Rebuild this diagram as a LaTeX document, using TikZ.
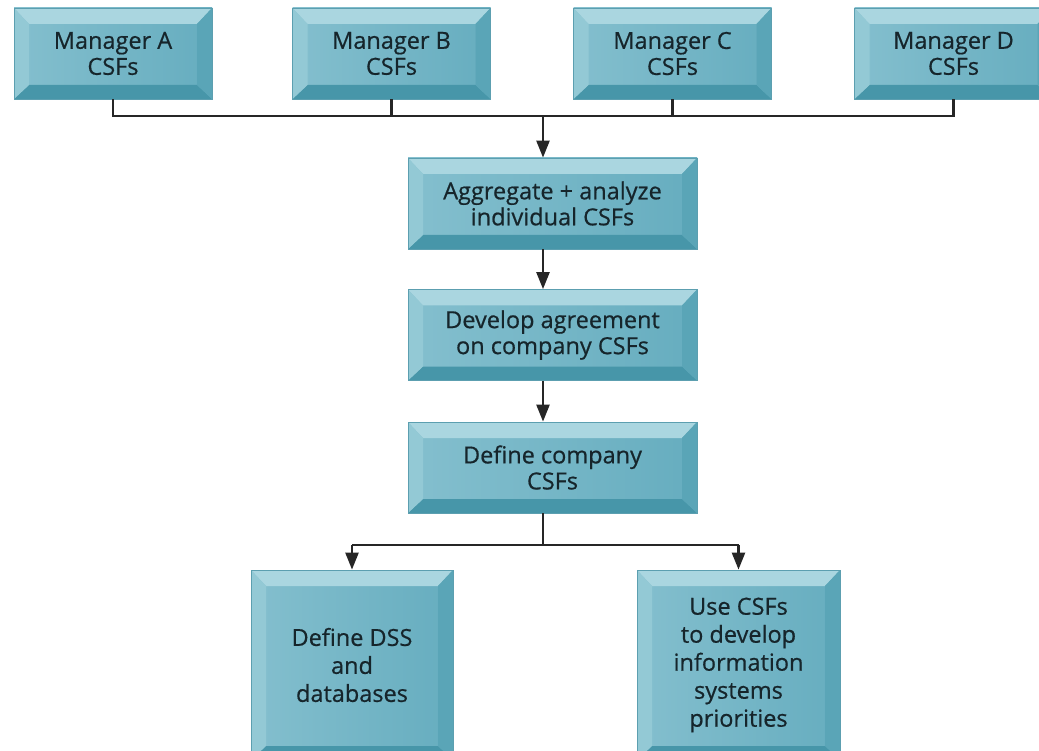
\documentclass[tikz,border=0pt]{standalone}
\usepackage{fontspec}
\setmainfont{Open Sans}[FakeBold=0.6]
\usetikzlibrary{arrows.meta}
\definecolor{face}{HTML}{66ADBF}
\definecolor{facel}{HTML}{84BFCE}
\definecolor{topc}{HTML}{AAD6E0}
\definecolor{botc}{HTML}{4796A9}
\definecolor{leftc}{HTML}{93C9D5}
\definecolor{rightc}{HTML}{5AA5B7}
\definecolor{edge}{HTML}{5C9FB0}
\definecolor{txt}{HTML}{16252B}
\newcommand{\bw}{15pt}
\tikzset{
  bev/.style={draw=edge, line width=0.8pt, left color=facel, right color=face,
    text=txt, align=center, inner sep=0pt,
    font=\fontsize{23.5}{26}\selectfont,
    path picture={
      \coordinate (nw) at (path picture bounding box.north west);
      \coordinate (ne) at (path picture bounding box.north east);
      \coordinate (sw) at (path picture bounding box.south west);
      \coordinate (se) at (path picture bounding box.south east);
      \fill[topc] (nw) -- (ne) -- ([xshift=-\bw,yshift=-16pt]ne) -- ([xshift=\bw,yshift=-16pt]nw) -- cycle;
      \fill[botc] (sw) -- (se) -- ([xshift=-\bw,yshift=14pt]se) -- ([xshift=\bw,yshift=14pt]sw) -- cycle;
      \fill[leftc] (nw) -- ([xshift=\bw,yshift=-16pt]nw) -- ([xshift=\bw,yshift=14pt]sw) -- (sw) -- cycle;
      \fill[rightc] (ne) -- ([xshift=-\bw,yshift=-16pt]ne) -- ([xshift=-\bw,yshift=14pt]se) -- (se) -- cycle;
    }},
  conn/.style={line width=2.4pt, draw=black!85},
  arr/.style={conn, -{Triangle[length=17pt,width=13pt]}}
}
\begin{document}
\begin{tikzpicture}[x=1pt,y=-1pt]
\useasboundingbox (0,0) rectangle (1039,751);
\clip (0,0) rectangle (1039,751);
\fill[white] (0,0) rectangle (1039,751);
% top managers
\node[bev, minimum width=198pt, minimum height=91pt] (ma) at (113,53.5) {Manager A\\CSFs};
\node[bev, minimum width=198pt, minimum height=91pt] (mb) at (391.5,53.5) {Manager B\\CSFs};
\node[bev, minimum width=198pt, minimum height=91pt] (mc) at (672.5,53.5) {Manager C\\CSFs};
\node[bev, minimum width=198pt, minimum height=91pt] (md) at (953.5,53.5) {Manager D\\CSFs};
% middle chain
\node[bev, minimum width=289pt, minimum height=91pt] (agg) at (552.5,203.5) {Aggregate + analyze\\individual CSFs};
\node[bev, minimum width=289pt, minimum height=91pt] (dev) at (552.5,335) {Develop agreement\\on company CSFs};
\node[bev, minimum width=289pt, minimum height=91pt] (def) at (552.5,467.5) {Define company\\CSFs};
% bottom
\node[bev, minimum width=202pt, minimum height=190pt, font=\fontsize{23.5}{28}\selectfont] (dss) at (352,665) {Define DSS\\and\\databases};
\node[bev, minimum width=203pt, minimum height=190pt, font=\fontsize{23.5}{28}\selectfont] (use) at (738.5,665) {Use CSFs\\to develop\\information\\systems\\priorities};
% connectors
\coordinate (jt) at (543,116);
\coordinate (jb) at (543,545);
\draw[conn] (ma.south) -- (ma.south |- jt) -- (md.south |- jt) -- (md.south);
\draw[conn] (mb.south) -- (mb.south |- jt);
\draw[conn] (mc.south) -- (mc.south |- jt);
\draw[arr] (jt) -- (jt |- agg.north);
\draw[arr] (agg.south -| jt) -- (jt |- dev.north);
\draw[arr] (dev.south -| jt) -- (jt |- def.north);
\draw[conn] (def.south -| jt) -- (jb);
\draw[conn] (dss.north |- jb) -- (use.north |- jb);
\draw[arr] (dss.north |- jb) -- (dss.north);
\draw[arr] (use.north |- jb) -- (use.north);
\end{tikzpicture}
\end{document}
